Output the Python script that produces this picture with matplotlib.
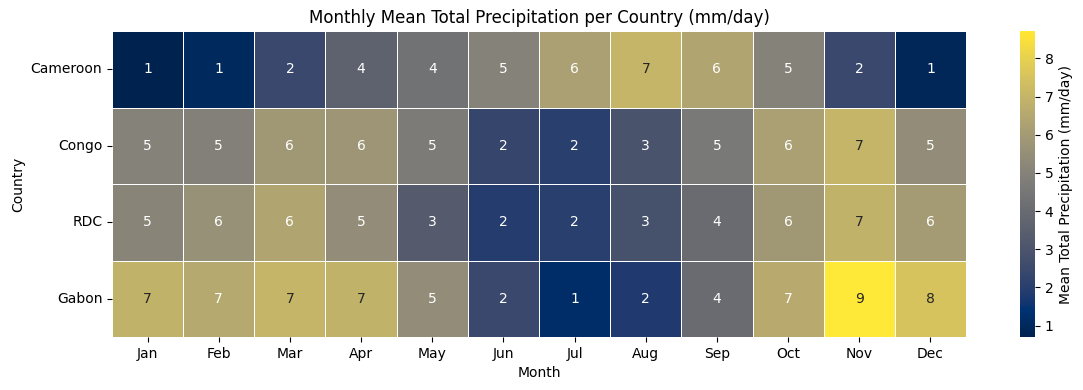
import numpy as np
import pandas as pd
import matplotlib
matplotlib.use("Agg")
import matplotlib.pyplot as plt
import seaborn as sns

countries = ["Cameroon", "Congo", "RDC", "Gabon"]
months = ["Jan", "Feb", "Mar", "Apr", "May", "Jun", "Jul", "Aug", "Sep", "Oct", "Nov", "Dec"]

cameroon = [0.7, 1.0, 2.4, 3.6, 4.3, 5.0, 6.2, 7.0, 6.4, 5.0, 2.4, 0.9]
congo = [5.0, 4.9, 5.9, 5.8, 4.7, 2.3, 2.0, 2.9, 4.6, 6.2, 7.0, 5.4]
rdc = [5.1, 5.6, 6.4, 5.4, 3.3, 1.9, 2.0, 2.8, 4.0, 5.9, 6.9, 6.0]
gabon = [6.9, 6.55, 7.0, 6.9, 5.4, 2.4, 1.2, 1.8, 4.0, 6.6, 8.72, 7.5]

df = pd.DataFrame([cameroon, congo, rdc, gabon], index=countries, columns=months)

fig = plt.figure(figsize=(10.83, 3.9))
ax = fig.add_axes([0.1034, 0.1359, 0.7886, 0.7846])
cax = fig.add_axes([0.9418, 0.1359, 0.0139, 0.7846])
sns.heatmap(df, cmap="cividis", annot=True, fmt=".0f", linewidths=0.5,
            linecolor="white", ax=ax, cbar_ax=cax,
            cbar_kws={"label": "Mean Total Precipitation (mm/day)"})
ax.set_title("Monthly Mean Total Precipitation per Country (mm/day)")
ax.set_xlabel("Month")
ax.set_ylabel("Country")
ax.tick_params(axis="y", rotation=0)
fig.savefig("out.png", dpi=100)
